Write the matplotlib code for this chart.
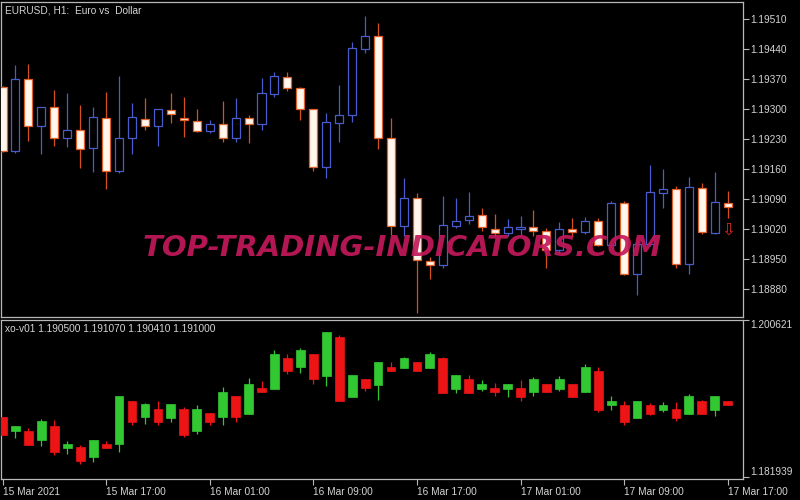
import matplotlib.pyplot as plt
import numpy as np

plt.rcParams['font.family'] = 'Liberation Sans'

# EURUSD H1 candles, 15 Mar 09:00 .. 17 Mar 17:00
eur_open = [1.19351, 1.19202, 1.19370, 1.19260, 1.19305, 1.19232, 1.19251, 1.19209, 1.19279, 1.19155,
            1.19232, 1.19277, 1.19260, 1.19298, 1.19279, 1.19272, 1.19249, 1.19265, 1.19232, 1.19279,
            1.19265, 1.19335, 1.19375, 1.19349, 1.19300, 1.19165, 1.19267, 1.19286, 1.19440, 1.19470,
            1.19232, 1.19027, 1.19092, 1.18945, 1.18936, 1.19027, 1.19041, 1.19053, 1.19020, 1.19011,
            1.19020, 1.19025, 1.19015, 1.18971, 1.19020, 1.19013, 1.19039, 1.18983, 1.19081, 1.18915,
            1.18985, 1.19104, 1.19113, 1.18938, 1.19116, 1.19011, 1.19081]
eur_high = [1.19353, 1.19403, 1.19405, 1.19305, 1.19344, 1.19337, 1.19309, 1.19305, 1.19340, 1.19377,
            1.19314, 1.19326, 1.19300, 1.19337, 1.19328, 1.19300, 1.19274, 1.19319, 1.19326, 1.19286,
            1.19372, 1.19386, 1.19386, 1.19351, 1.19300, 1.19291, 1.19356, 1.19456, 1.19517, 1.19501,
            1.19279, 1.19139, 1.19104, 1.18955, 1.19097, 1.19092, 1.19106, 1.19069, 1.19055, 1.19043,
            1.19050, 1.19064, 1.19022, 1.19036, 1.19046, 1.19048, 1.19046, 1.19085, 1.19085, 1.18994,
            1.19169, 1.19160, 1.19120, 1.19141, 1.19127, 1.19153, 1.19109]
eur_low = [1.19200, 1.19197, 1.19225, 1.19195, 1.19214, 1.19211, 1.19162, 1.19153, 1.19113, 1.19151,
           1.19195, 1.19251, 1.19214, 1.19267, 1.19235, 1.19246, 1.19244, 1.19223, 1.19223, 1.19221,
           1.19251, 1.19328, 1.19342, 1.19274, 1.19155, 1.19139, 1.19223, 1.19270, 1.19431, 1.19207,
           1.19006, 1.19004, 1.18824, 1.18903, 1.18929, 1.19022, 1.19032, 1.19015, 1.19001, 1.19004,
           1.19004, 1.19004, 1.18929, 1.18964, 1.19001, 1.19008, 1.18980, 1.18976, 1.18913, 1.18866,
           1.18980, 1.19069, 1.18929, 1.18915, 1.19008, 1.19008, 1.19046]
eur_close = [1.19202, 1.19370, 1.19260, 1.19305, 1.19232, 1.19251, 1.19207, 1.19281, 1.19155, 1.19232,
             1.19281, 1.19260, 1.19300, 1.19288, 1.19274, 1.19249, 1.19265, 1.19232, 1.19279, 1.19265,
             1.19337, 1.19377, 1.19349, 1.19300, 1.19165, 1.19270, 1.19286, 1.19442, 1.19470, 1.19232,
             1.19027, 1.19092, 1.18948, 1.18936, 1.19029, 1.19039, 1.19050, 1.19025, 1.19011, 1.19025,
             1.19025, 1.19015, 1.18971, 1.19020, 1.19013, 1.19039, 1.18983, 1.19081, 1.18915, 1.18985,
             1.19106, 1.19113, 1.18938, 1.19118, 1.19013, 1.19083, 1.19071]

# xo-v01 indicator candles
xo_open = [1.18912, 1.18741, 1.18750, 1.18635, 1.18809, 1.18545, 1.18552, 1.18434, 1.18592, 1.18592,
           1.19104, 1.18907, 1.19010, 1.18900, 1.19010, 1.18741, 1.18959, 1.18907, 1.19164, 1.18951,
           1.19255, 1.19246, 1.19609, 1.19503, 1.19660, 1.19403, 1.19865, 1.19148, 1.19361, 1.19294,
           1.19510, 1.19498, 1.19562, 1.19498, 1.19609, 1.19246, 1.19361, 1.19246, 1.19255, 1.19246,
           1.19255, 1.19203, 1.19305, 1.19246, 1.19305, 1.19203, 1.19459, 1.19049, 1.19057, 1.18900,
           1.19057, 1.18998, 1.19006, 1.18947, 1.19104, 1.18998, 1.19104]
xo_high = [1.18912, 1.18809, 1.18785, 1.18888, 1.18880, 1.18631, 1.18576, 1.18643, 1.18623, 1.19155,
           1.19104, 1.19077, 1.19104, 1.19065, 1.19025, 1.19057, 1.18959, 1.19262, 1.19164, 1.19373,
           1.19333, 1.19707, 1.19657, 1.19735, 1.19660, 1.19917, 1.19885, 1.19412, 1.19361, 1.19562,
           1.19562, 1.19621, 1.19562, 1.19680, 1.19621, 1.19412, 1.19412, 1.19353, 1.19314, 1.19305,
           1.19353, 1.19385, 1.19305, 1.19400, 1.19305, 1.19538, 1.19510, 1.19155, 1.19096, 1.19104,
           1.19077, 1.19089, 1.19089, 1.19184, 1.19116, 1.19155, 1.19104]
xo_low = [1.18702, 1.18663, 1.18584, 1.18564, 1.18454, 1.18466, 1.18348, 1.18375, 1.18545, 1.18498,
          1.18821, 1.18832, 1.18812, 1.18852, 1.18670, 1.18711, 1.18821, 1.18821, 1.18852, 1.18951,
          1.19203, 1.19246, 1.19424, 1.19439, 1.19305, 1.19282, 1.19096, 1.19148, 1.19214, 1.19116,
          1.19451, 1.19498, 1.19451, 1.19498, 1.19195, 1.19195, 1.19195, 1.19214, 1.19155, 1.19143,
          1.19104, 1.19155, 1.19203, 1.19214, 1.19148, 1.19203, 1.18971, 1.18998, 1.18812, 1.18900,
          1.18931, 1.18971, 1.18860, 1.18947, 1.18947, 1.18919, 1.19049]
xo_close = [1.18702, 1.18809, 1.18584, 1.18860, 1.18493, 1.18596, 1.18387, 1.18643, 1.18545, 1.19155,
            1.18848, 1.19065, 1.18852, 1.19065, 1.18702, 1.19010, 1.18852, 1.19207, 1.18907, 1.19305,
            1.19203, 1.19657, 1.19451, 1.19707, 1.19361, 1.19917, 1.19096, 1.19412, 1.19255, 1.19562,
            1.19451, 1.19609, 1.19451, 1.19657, 1.19195, 1.19412, 1.19195, 1.19302, 1.19203, 1.19305,
            1.19148, 1.19364, 1.19203, 1.19361, 1.19148, 1.19510, 1.18998, 1.19104, 1.18852, 1.19104,
            1.18947, 1.19057, 1.18900, 1.19155, 1.18947, 1.19155, 1.19049]

price_ticks = [1.18880, 1.18950, 1.19020, 1.19090, 1.19160, 1.19230, 1.19300, 1.19370, 1.19440, 1.19510]
xo_ticks = [1.181939, 1.200621]
time_tick_bars = [0, 8, 16, 24, 32, 40, 48, 56]
time_labels = ['15 Mar 2021', '15 Mar 17:00', '16 Mar 01:00', '16 Mar 09:00',
               '16 Mar 17:00', '17 Mar 01:00', '17 Mar 09:00', '17 Mar 17:00']
arrow_bars = [56]
arrow_prices = [1.19020]

bg = 'black'
fg = '#d4d4d4'
frame = '#b8b8b8'

fig = plt.figure(figsize=(8, 5), dpi=100, facecolor=bg)
ax = fig.add_axes([1/800, 183/500, 742/800, 315/500], facecolor=bg)
ax2 = fig.add_axes([1/800, 21/500, 742/800, 159/500], facecolor=bg)

x = np.arange(len(eur_open))
o = np.array(eur_open); h = np.array(eur_high); l = np.array(eur_low); c = np.array(eur_close)
up = c >= o
wick_col = np.where(up, '#4a5ccc', '#d4501e')
ax.vlines(x, l, h, colors=wick_col, lw=0.9, zorder=2)
body = np.maximum(np.abs(c - o), 0.000015)
ax.bar(x[up], body[up], bottom=np.minimum(o, c)[up], width=0.62,
       color=bg, edgecolor='#4a5ccc', lw=0.9, zorder=3)
ax.bar(x[~up], body[~up], bottom=np.minimum(o, c)[~up], width=0.62,
       color='#fff6ee', edgecolor='#e0602a', lw=0.9, zorder=3)

for xb, yb in zip(arrow_bars, arrow_prices):
    ax.text(xb, yb, '\u21e9', color='#e02424', fontsize=12, ha='center', va='center',
            family='DejaVu Sans', zorder=4)

ax.text(0.5405, 0.219, 'TOP-TRADING-INDICATORS.COM', transform=ax.transAxes,
        family='DejaVu Sans', fontsize=21, fontweight='bold', fontstyle='italic',
        color='#c2185b', alpha=0.92, ha='center', va='center', zorder=5)

ax.text(0.006, 0.99, 'EURUSD, H1:  Euro vs  Dollar', transform=ax.transAxes,
        color=fg, fontsize=7.3, ha='left', va='top')

ax.set_xlim(-0.116, 57.18)
ax.set_ylim(1.18815, 1.19550)
ax.yaxis.tick_right()
ax.set_yticks(price_ticks)
ax.set_yticklabels([f'{p:.5f}' for p in price_ticks])
ax.tick_params(axis='y', colors=frame, labelcolor=fg, length=4, width=0.8, pad=1.5, labelsize=7.3)
ax.tick_params(axis='x', bottom=False, labelbottom=False)

# indicator pane
xo = np.array(xo_open); xh = np.array(xo_high); xl = np.array(xo_low); xc = np.array(xo_close)
xup = xc >= xo
col = np.where(xup, '#32c832', '#ec1414')
ax2.vlines(x, xl, xh, colors=col, lw=0.9, zorder=2)
ax2.bar(x, np.maximum(np.abs(xc - xo), 0.00005), bottom=np.minimum(xo, xc), width=0.68,
        color=col, edgecolor=col, lw=0.5, zorder=3)

ax2.text(0.006, 0.975, 'xo-v01 1.190500 1.191070 1.190410 1.191000', transform=ax2.transAxes,
         color=fg, fontsize=7.3, ha='left', va='top')

ax2.set_xlim(-0.116, 57.18)
ax2.set_ylim(1.18175, 1.200621)
ax2.yaxis.tick_right()
ax2.set_yticks(xo_ticks)
ax2.set_yticklabels([f'{p:.6f}' for p in xo_ticks])
lbls = ax2.get_yticklabels()
lbls[0].set_verticalalignment('bottom')
lbls[1].set_verticalalignment('top')
ax2.tick_params(axis='y', colors=frame, labelcolor=fg, length=4, width=0.8, pad=1.5, labelsize=7.3)
ax2.set_xticks(time_tick_bars)
ax2.set_xticklabels(time_labels, ha='left')
ax2.tick_params(axis='x', colors=frame, labelcolor=fg, length=4, width=0.8, pad=1.5, labelsize=7.3)

for a in (ax, ax2):
    for s in a.spines.values():
        s.set_color(frame)
        s.set_linewidth(0.9)

fig.savefig('out.png', dpi=100, facecolor=bg)
